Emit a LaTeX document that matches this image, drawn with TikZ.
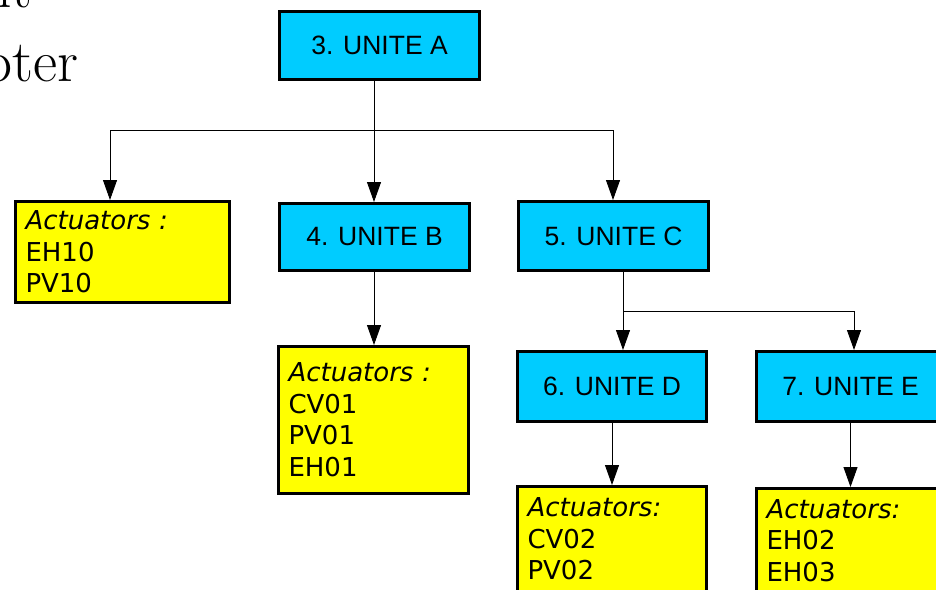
\documentclass[tikz,border=0pt]{standalone}
\usepackage{fontspec}
\newfontfamily\unitfont{Liberation Sans}
\newfontfamily\actfont{DejaVu Sans}
\usetikzlibrary{arrows.meta}
\definecolor{unitcyan}{HTML}{00CCFF}
\definecolor{actyellow}{HTML}{FFFF00}
\tikzset{
  unitbox/.style={draw=black, fill=unitcyan, line width=3pt, inner sep=0pt,
    font=\unitfont\fontsize{26.5}{30}\selectfont},
  actbox/.style={draw=black, fill=actyellow, line width=3pt, anchor=north west,
    align=left, inner xsep=10pt, font=\actfont\fontsize{26}{31.5}\selectfont},
  link/.style={line width=0.9pt, draw=black},
  arr/.style={link, -{Triangle[length=20pt,width=14pt]}},
  pagetext/.style={font=\fontsize{59}{62}\selectfont, inner sep=0pt, anchor=base west}
}
\begin{document}
\begin{tikzpicture}[x=1pt,y=-1pt]
\useasboundingbox (0,0) rectangle (936,589);
\clip (0,0) rectangle (936,589);
\fill[white] (0,0) rectangle (936,589);
% page text behind the diagram
\node[pagetext] (pg1) at (-3,7) {it};
\node[pagetext] (pg2) at (-18,81) {pter};
% unit boxes
\node[unitbox, minimum width=200pt, minimum height=68pt] (A) at (379.5,45.5) {3. UNITE A};
\node[unitbox, minimum width=190pt, minimum height=67pt] (B) at (374.5,237) {4. UNITE B};
\node[unitbox, minimum width=190pt, minimum height=69pt] (C) at (613.5,236) {5. UNITE C};
\node[unitbox, minimum width=189pt, minimum height=70pt] (D) at (612,386.5) {6. UNITE D};
\node[unitbox, minimum width=189pt, minimum height=70pt] (E) at (850.5,386.5) {7. UNITE E};
% actuator boxes
\node[actbox, text width=194pt, inner ysep=9.5pt] (act1) at (14,200) {\textit{Actuators :}\\EH10\\PV10};
\node[actbox, text width=170pt, inner ysep=16.5pt] (actB) at (277,345) {\textit{Actuators :}\\CV01\\PV01\\EH01};
\node[actbox, text width=169pt, inner ysep=11.3pt] (actD) at (516,485) {\textit{Actuators:}\\CV02\\PV02\\\phantom{X}};
\node[actbox, text width=169pt, inner ysep=11pt] (actE) at (755,487) {\textit{Actuators:}\\EH02\\EH03\\\phantom{X}};
% connectors
\coordinate (t1) at (110,130);
\coordinate (t2) at (374,130);
\coordinate (t3) at (613,130);
\coordinate (t4) at (623,311);
\coordinate (t5) at (854,311);
\draw[link] (t2 |- A.south) -- (t2);
\draw[link] (t1) -- (t3);
\draw[arr] (t1) -- (t1 |- act1.north);
\draw[arr] (t2) -- (t2 |- B.north);
\draw[arr] (t3) -- (t3 |- C.north);
\draw[arr] (t2 |- B.south) -- (t2 |- actB.north);
\draw[link] (t4 |- C.south) -- (t4);
\draw[link] (t4) -- (t5);
\draw[arr] (t4) -- (t4 |- D.north);
\draw[arr] (t5) -- (t5 |- E.north);
\draw[arr] (D.south) -- (D.south |- actD.north);
\draw[arr] (E.south) -- (E.south |- actE.north);
\end{tikzpicture}
\end{document}
